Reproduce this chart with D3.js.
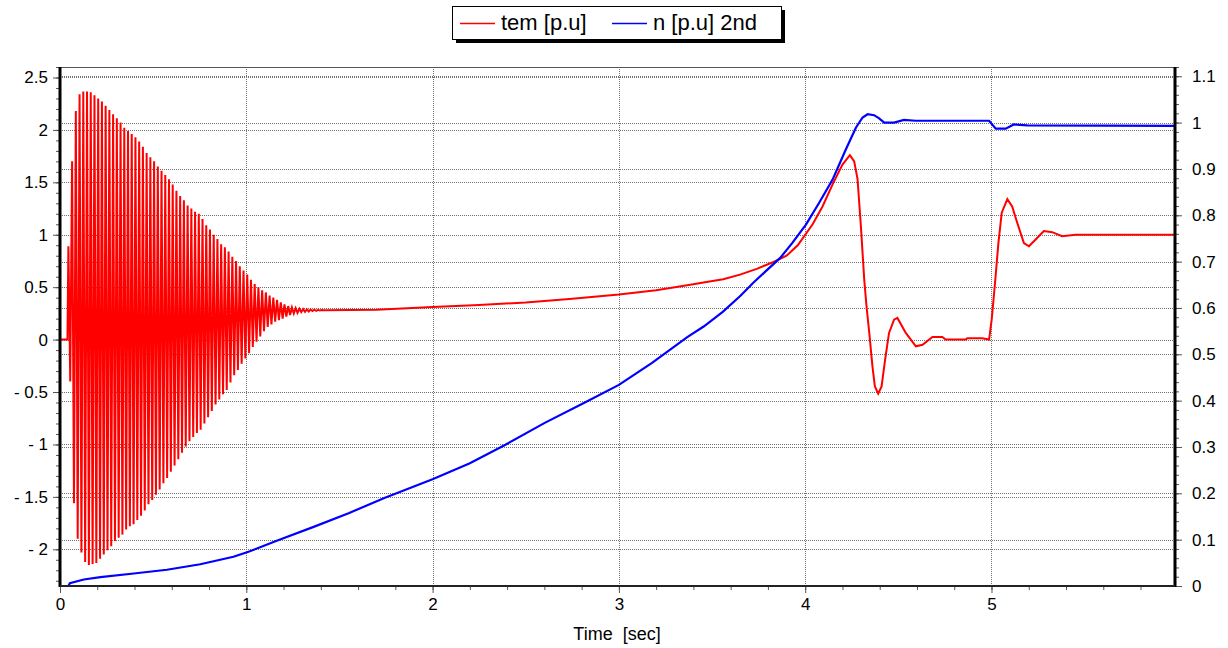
<!DOCTYPE html>
<html>
<head>
<meta charset="utf-8">
<title>tem / n</title>
<script src="https://d3js.org/d3.v7.min.js"></script>
<style>
  body { margin: 0; background: #fff; }
  text { font-family: "Liberation Sans", Arial, sans-serif; }
</style>
</head>
<body>
<div id="chart"></div>
<script>
// series names and colours
const seriesNames = ["tem [p.u]", "n [p.u] 2nd"];
const seriesColors = ["#ff0000", "#0000ff"];

// tick labels
const xTicks = [0, 1, 2, 3, 4, 5];
const leftTicks = [-2, -1.5, -1, -0.5, 0, 0.5, 1, 1.5, 2, 2.5];
const rightTicks = [0, 0.1, 0.2, 0.3, 0.4, 0.5, 0.6, 0.7, 0.8, 0.9, 1, 1.1];

// tem [p.u]: flat start, then the start-up oscillation (one peak or trough
// every half cycle, 0.01 s apart, read off the picture), then the slow part
const temLead = [[0, 0], [0.04, 0]];
const oscStart = 0.045, oscStep = 0.01;
const temOsc = [
  0.89, -0.4, 1.7, -1.56, 2.18, -1.9, 2.34, -2.03, 2.366, -2.12,
  2.366, -2.15, 2.36, -2.14, 2.33, -2.13, 2.3, -2.09, 2.27, -2.05,
  2.23, -2.01, 2.19, -1.97, 2.15, -1.92, 2.11, -1.89, 2.07, -1.86,
  2.02, -1.81, 1.99, -1.78, 1.96, -1.76, 1.93, -1.72, 1.89, -1.68,
  1.84, -1.63, 1.78, -1.57, 1.74, -1.53, 1.7, -1.48, 1.65, -1.43,
  1.61, -1.37, 1.57, -1.32, 1.53, -1.26, 1.48, -1.2, 1.42, -1.14,
  1.37, -1.08, 1.33, -1.02, 1.28, -0.97, 1.25, -0.93, 1.22, -0.89,
  1.2, -0.86, 1.15, -0.8, 1.09, -0.74, 1.05, -0.68, 1.0, -0.62,
  0.96, -0.57, 0.91, -0.52, 0.88, -0.48, 0.84, -0.41, 0.79, -0.34,
  0.75, -0.29, 0.7, -0.23, 0.66, -0.18, 0.62, -0.13, 0.57, -0.07,
  0.53, -0.02, 0.5, 0.03, 0.47, 0.08, 0.45, 0.12, 0.42, 0.145,
  0.4, 0.17, 0.38, 0.185, 0.355, 0.2, 0.335, 0.22, 0.32, 0.235,
  0.307, 0.248, 0.3, 0.255, 0.294, 0.262, 0.291, 0.265, 0.289, 0.268,
  0.287, 0.272, 0.285, 0.275, 0.284, 0.277, 0.282, 0.279
];
const temTail = [
  [1.42, 0.28], [1.7, 0.285], [2.0, 0.31], [2.25, 0.33], [2.5, 0.355],
  [2.75, 0.39], [3.0, 0.43], [3.2, 0.47], [3.375, 0.52], [3.47, 0.55],
  [3.56, 0.575], [3.65, 0.62], [3.74, 0.675], [3.83, 0.74], [3.9, 0.8],
  [3.96, 0.9], [4.04, 1.1], [4.093, 1.27], [4.147, 1.48], [4.2, 1.67],
  [4.24, 1.76], [4.263, 1.7], [4.281, 1.53], [4.299, 1.08], [4.317, 0.57],
  [4.329, 0.32], [4.344, 0.064], [4.361, -0.255], [4.374, -0.446], [4.392, -0.516],
  [4.41, -0.446], [4.429, -0.19], [4.45, 0.064], [4.477, 0.19], [4.495, 0.207],
  [4.54, 0.064], [4.594, -0.064], [4.63, -0.05], [4.683, 0.025], [4.736, 0.025],
  [4.754, 0.0], [4.862, 0.0], [4.87, 0.013], [4.95, 0.013], [4.987, 0.0],
  [5.001, 0.19], [5.019, 0.54], [5.037, 0.92], [5.055, 1.21], [5.085, 1.34],
  [5.111, 1.27], [5.138, 1.115], [5.174, 0.92], [5.201, 0.89], [5.237, 0.955],
  [5.281, 1.035], [5.326, 1.025], [5.379, 0.987], [5.451, 1.0], [5.985, 1.0]
];

// n [p.u] 2nd (right axis)
const speed = [
  [0, 0], [0.045, 0], [0.053, 0.006], [0.128, 0.014], [0.217, 0.019],
  [0.396, 0.027], [0.574, 0.035], [0.753, 0.047], [0.931, 0.063], [1.012, 0.074],
  [1.167, 0.098], [1.358, 0.127], [1.549, 0.157], [1.741, 0.19], [2.003, 0.231],
  [2.2, 0.265], [2.391, 0.305], [2.602, 0.352], [2.812, 0.395], [3.0, 0.434],
  [3.176, 0.481], [3.367, 0.537], [3.455, 0.56], [3.559, 0.592], [3.654, 0.627],
  [3.72, 0.654], [3.79, 0.68], [3.866, 0.708], [3.932, 0.741], [4.004, 0.78],
  [4.075, 0.827], [4.147, 0.877], [4.218, 0.942], [4.272, 0.989], [4.308, 1.011],
  [4.335, 1.018], [4.37, 1.016], [4.397, 1.009], [4.424, 1.0], [4.477, 1.0],
  [4.53, 1.006], [4.594, 1.004], [4.987, 1.004], [5.023, 0.987], [5.076, 0.987],
  [5.12, 0.996], [5.192, 0.994], [5.985, 0.993]
];

// put the torque pieces together
let tem = temLead.slice();
temOsc.forEach(function(v, i) { tem.push([oscStart + i * oscStep, v]); });
tem = tem.concat(temTail);

let margin = {top: 67, right: 53, bottom: 62, left: 60};
let w = 1228 - margin.left - margin.right;
let h = 648 - margin.top - margin.bottom;

let root = d3.select("#chart").append("svg")
    .attr("width", 1228)
    .attr("height", 648);

let svg = root.append("g")
    .attr("transform", "translate(" + margin.left + "," + margin.top + ")");

let x = d3.scaleLinear().domain([0, 5.985]).range([0, w]);
let yL = d3.scaleLinear().domain([-2.35, 2.6]).range([h, 0]);
let yR = d3.scaleLinear().domain([0, 1.12]).range([h, 0]);

// dotted grid
let grid = svg.append("g")
    .attr("stroke", "#707070")
    .attr("stroke-width", 1)
    .attr("stroke-dasharray", "1,1");
grid.selectAll(".gl").data(leftTicks).enter().append("line")
    .attr("x1", 0).attr("x2", w)
    .attr("y1", d => Math.round(yL(d)) + 0.5).attr("y2", d => Math.round(yL(d)) + 0.5);
grid.selectAll(".gr").data(rightTicks.filter(d => d > 0)).enter().append("line")
    .attr("x1", 0).attr("x2", w)
    .attr("y1", d => Math.round(yR(d)) + 0.5).attr("y2", d => Math.round(yR(d)) + 0.5);
grid.selectAll(".gx").data(xTicks.filter(d => d > 0)).enter().append("line")
    .attr("y1", 0).attr("y2", h)
    .attr("x1", d => Math.round(x(d)) + 0.5).attr("x2", d => Math.round(x(d)) + 0.5);

// top frame line
svg.append("line").attr("x1", 0).attr("x2", w).attr("y1", 0.5).attr("y2", 0.5)
    .attr("stroke", "#555").attr("stroke-width", 1);

// curves
svg.append("clipPath").attr("id", "clip")
  .append("rect").attr("width", w).attr("height", h);

let plot = svg.append("g").attr("clip-path", "url(#clip)");

plot.append("path")
    .datum(tem)
    .attr("fill", "none")
    .attr("stroke", seriesColors[0])
    .attr("stroke-width", 2)
    .attr("stroke-linejoin", "miter")
    .attr("d", d3.line().x(d => x(d[0])).y(d => yL(d[1])));

plot.append("path")
    .datum(speed)
    .attr("fill", "none")
    .attr("stroke", seriesColors[1])
    .attr("stroke-width", 2.2)
    .attr("d", d3.line().x(d => x(d[0])).y(d => yR(d[1])));

// axes
function styleAxis(g) {
    g.select(".domain").remove();
    g.selectAll(".tick line").attr("stroke", "#555");
    g.selectAll(".tick text").attr("font-size", 17).attr("fill", "#000");
}

let leftFmt = d => d < 0 ? "- " + Math.abs(d) : String(d);

svg.append("g")
    .call(d3.axisLeft(yL).tickValues(d3.range(-2.3, 2.61, 0.1)).tickSize(4).tickFormat(""))
    .call(styleAxis);
svg.append("g")
    .call(d3.axisLeft(yL).tickValues(leftTicks).tickSize(7).tickPadding(5).tickFormat(leftFmt))
    .call(styleAxis);

svg.append("g")
    .attr("transform", "translate(" + w + ",0)")
    .call(d3.axisRight(yR).tickValues(d3.range(0, 1.121, 0.02)).tickSize(4).tickFormat(""))
    .call(styleAxis);
svg.append("g")
    .attr("transform", "translate(" + w + ",0)")
    .call(d3.axisRight(yR).tickValues(rightTicks).tickSize(7).tickPadding(10).tickFormat(d => String(d)))
    .call(styleAxis);

svg.append("g")
    .attr("transform", "translate(0," + h + ")")
    .call(d3.axisBottom(x).tickValues(d3.range(0, 5.99, 0.2)).tickSize(4).tickFormat(""))
    .call(styleAxis);
svg.append("g")
    .attr("transform", "translate(0," + h + ")")
    .call(d3.axisBottom(x).tickValues(xTicks).tickSize(7).tickPadding(5).tickFormat(d3.format("d")))
    .call(styleAxis);

// frame: thick left/right, dark bottom
svg.append("line").attr("x1", 0).attr("x2", 0).attr("y1", 0).attr("y2", h + 1)
    .attr("stroke", "#000").attr("stroke-width", 3);
svg.append("line").attr("x1", w).attr("x2", w).attr("y1", 0).attr("y2", h + 1)
    .attr("stroke", "#000").attr("stroke-width", 3);
svg.append("line").attr("x1", 0).attr("x2", w).attr("y1", h).attr("y2", h)
    .attr("stroke", "#222").attr("stroke-width", 2);

// axis title
root.append("text")
    .attr("x", 617).attr("y", 640)
    .attr("text-anchor", "middle")
    .attr("font-size", 18)
    .style("white-space", "pre")
    .text("Time  [sec]");

// legend with drop shadow
let lg = root.append("g");
lg.append("rect").attr("x", 456).attr("y", 10).attr("width", 329).attr("height", 33).attr("fill", "#000");
lg.append("rect").attr("x", 452.5).attr("y", 6.5).attr("width", 329).attr("height", 33)
    .attr("fill", "#fff").attr("stroke", "#000").attr("stroke-width", 1);
let legendX = [460, 612];
seriesNames.forEach(function(name, i) {
    lg.append("line")
        .attr("x1", legendX[i]).attr("x2", legendX[i] + 35)
        .attr("y1", 23.5).attr("y2", 23.5)
        .attr("stroke", seriesColors[i]).attr("stroke-width", 1.5);
    lg.append("text")
        .attr("x", legendX[i] + 41).attr("y", 30)
        .attr("font-size", 22)
        .text(name);
});
</script>
</body>
</html>
